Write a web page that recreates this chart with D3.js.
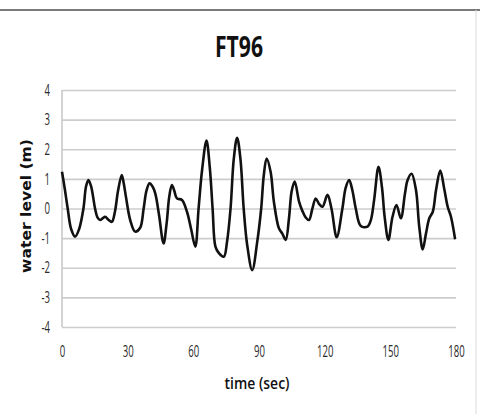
<!DOCTYPE html>
<html>
<head>
<meta charset="utf-8">
<script src="https://cdn.jsdelivr.net/npm/d3@7"></script>
<style>
  html, body { margin: 0; padding: 0; background: #fff; }
  svg { display: block; }
</style>
</head>
<body>
<svg id="chart" width="480" height="414"></svg>
<script>
// ---- data ----
const title = "FT96";
const xLabel = "time (sec)";
const yLabel = "water level (m)";
const xTicks = [0, 30, 60, 90, 120, 150, 180];
const yTicks = [-4, -3, -2, -1, 0, 1, 2, 3, 4];
const times = [
  0, 1.3, 2.6, 4.2, 6.0, 7.8, 9.8, 11.0, 12.1, 13.3, 15.1, 16.2, 17.4, 18.6, 19.7, 21.2, 22.8,
  24.2, 25.6, 27.3, 28.2, 29.2, 31.2, 33.4, 35.7, 37.3, 38.6, 40.0, 41.3, 42.6, 44.3, 46.4,
  47.8, 49.0, 50.2, 51.3, 52.5, 54.8, 57.1, 59.0, 60.9, 62.4, 64.0, 66.0, 67.5, 68.8, 70.1,
  71.6, 73.9, 75.4, 77.0, 78.5, 80.0, 81.5, 83.0, 84.6, 86.9, 89.2, 91.0, 92.2, 93.5, 95.3,
  96.8, 99.1, 100.6, 102.2, 103.7, 104.9, 106.3, 108.3, 109.8, 111.3, 112.8, 114.4, 115.9,
  117.5, 119.0, 121.3, 123.1, 125.5, 128.1, 129.6, 131.2, 132.7, 134.2, 136.5, 139.6, 141.1,
  142.6, 144.6, 146.2, 147.4, 149.1, 151.0, 152.8, 154.8, 156.7, 157.9, 159.7, 161.7, 163.2,
  164.8, 166.3, 167.8, 169.4, 170.9, 172.8, 174.7, 176.2, 177.7, 179.6
];
const levels = [
  1.24, 0.65, 0, -0.7, -0.95, -0.7, 0, 0.75, 0.96, 0.75, 0, -0.3, -0.39, -0.33, -0.28, -0.38, -0.45,
  -0.1, 0.6, 1.13, 0.85, 0.4, -0.4, -0.78, -0.65, 0, 0.6, 0.85, 0.75, 0.51, -0.2, -1.18,
  -0.5, 0.4, 0.79, 0.6, 0.34, 0.29, -0.11, -0.7, -1.29, 0, 1.3, 2.29, 1.4, 0, -1.29,
  -1.5, -1.63, -1.12, 0, 1.69, 2.39, 1.69, 0, -1.23, -2.08, -1.12, 0, 1.13, 1.69, 1.24,
  0.23, -0.67, -0.84, -1.06, -0.33, 0.57, 0.91, 0.23, -0.08, -0.3, -0.39, 0, 0.34,
  0.15, 0.06, 0.46, 0, -0.97, 0, 0.7, 0.96, 0.6, 0, -0.59, -0.61, -0.39,
  0.29, 1.41, 0.7, -0.28, -1.06, -0.28, 0.12, -0.33, 0.51, 0.96, 1.17, 0.63, -0.61,
  -1.38, -0.84, -0.33, -0.11, 0.63, 1.28, 0.63, 0.06, -0.28, -1.04
];

// ---- layout ----
const svg = d3.select("#chart");
const L = 62, R = 456, T = 90, B = 327;
const x = d3.scaleLinear().domain([0, 180]).range([L, R]);
const y = d3.scaleLinear().domain([-4, 4]).range([B, T]);

// outer frame pieces
svg.append("line").attr("x1", 0).attr("x2", 480).attr("y1", 10).attr("y2", 10)
  .attr("stroke", "#7a7a7a").attr("stroke-width", 2);
svg.append("line").attr("x1", 476).attr("x2", 476).attr("y1", 10).attr("y2", 414)
  .attr("stroke", "#d9d9d9").attr("stroke-width", 1);

// title
svg.append("text").text(title)
  .attr("x", 239).attr("y", 57)
  .attr("text-anchor", "middle")
  .attr("font-family", "'Open Sans', sans-serif")
  .attr("font-weight", 700).attr("font-size", 28)
  .attr("textLength", 48).attr("lengthAdjust", "spacingAndGlyphs")
  .attr("fill", "#111");

const fmt = d => String(d);

// y axis with gridlines
const yAxis = svg.append("g")
  .attr("transform", `translate(${L},0)`)
  .call(d3.axisLeft(y).tickValues(yTicks).tickSize(-(R - L)).tickPadding(12).tickFormat(fmt));
yAxis.select(".domain").remove();
yAxis.selectAll(".tick line").attr("stroke", "#cccccc").attr("stroke-width", 1.7);
yAxis.selectAll(".tick text")
  .attr("font-family", "'Open Sans', sans-serif").attr("font-size", 16)
  .attr("fill", "#2a2a2a")
  .attr("transform", "scale(0.6,1)")
  .attr("x", -12 / 0.6);

// left vertical axis line
svg.append("line").attr("x1", L).attr("x2", L).attr("y1", T).attr("y2", B)
  .attr("stroke", "#cccccc").attr("stroke-width", 1.7);

// x axis
const xAxis = svg.append("g")
  .attr("transform", `translate(0,${B})`)
  .call(d3.axisBottom(x).tickValues(xTicks).tickSize(0).tickPadding(19).tickFormat(fmt));
xAxis.select(".domain").remove();
xAxis.selectAll(".tick text")
  .attr("font-family", "'Open Sans', sans-serif").attr("font-size", 16)
  .attr("fill", "#2a2a2a")
  .attr("transform", "scale(0.6,1)");

// axis labels
svg.append("text").text(xLabel)
  .attr("x", 257).attr("y", 389)
  .attr("text-anchor", "middle")
  .attr("font-family", "'Open Sans', sans-serif")
  .attr("font-weight", 600).attr("font-size", 16)
  .attr("textLength", 65).attr("lengthAdjust", "spacingAndGlyphs")
  .attr("fill", "#111");

svg.append("text").text(yLabel)
  .attr("transform", "translate(30.5,206) rotate(-90)")
  .attr("text-anchor", "middle")
  .attr("font-family", "'DejaVu Sans', sans-serif")
  .attr("font-weight", 700).attr("font-size", 14)
  .attr("textLength", 134).attr("lengthAdjust", "spacingAndGlyphs")
  .attr("fill", "#111");

// series line
const pts = times.map((t, i) => [t, levels[i]]);
const line = d3.line()
  .x(d => x(d[0])).y(d => y(d[1]))
  .curve(d3.curveCatmullRom.alpha(0.5));
svg.append("path").datum(pts)
  .attr("d", line)
  .attr("fill", "none")
  .attr("stroke", "#111")
  .attr("stroke-width", 2.6)
  .attr("stroke-linejoin", "round");
</script>
</body>
</html>
